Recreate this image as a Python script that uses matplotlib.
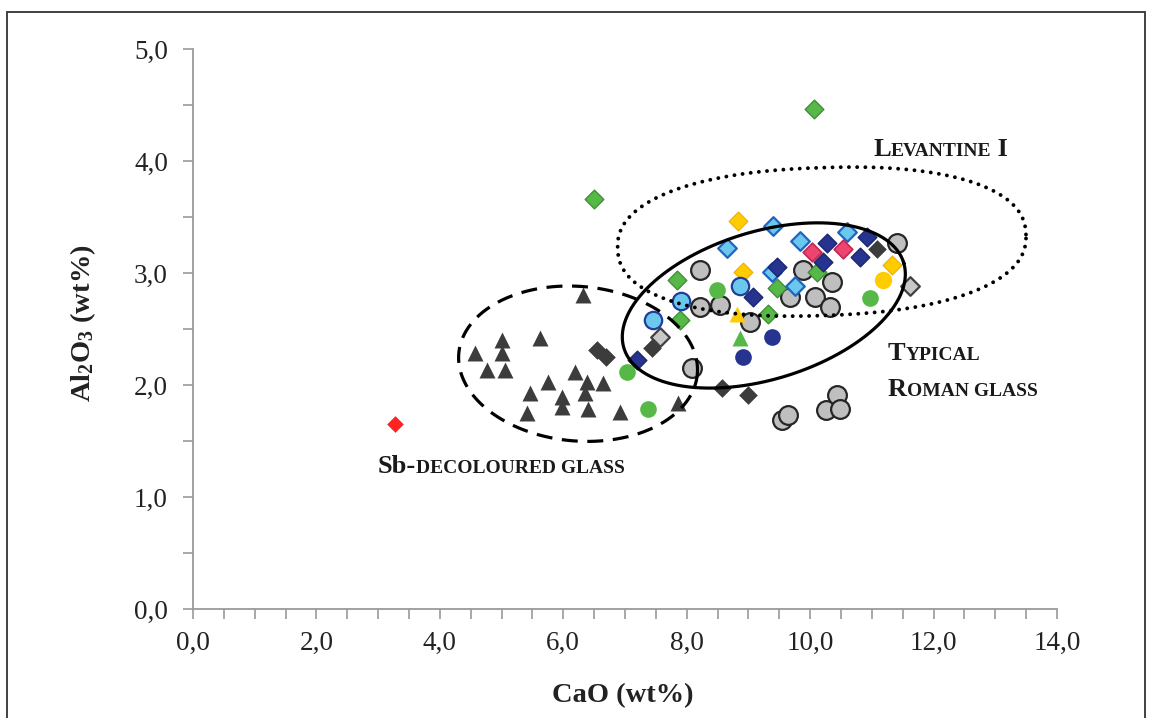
import numpy as np
import matplotlib.pyplot as plt
from matplotlib.patches import Rectangle

plt.rcParams['font.family'] = ['Liberation Serif', 'DejaVu Serif']
plt.rcParams['mathtext.fontset'] = 'custom'
plt.rcParams['mathtext.rm'] = 'Liberation Serif:bold'
plt.rcParams['mathtext.it'] = 'Liberation Serif:bold'
plt.rcParams['mathtext.bf'] = 'Liberation Serif:bold'

# =============================================================================
#               DATOS  (CaO wt%, Al2O3 wt%)
# =============================================================================

# vidrios decolorados con Sb
sb_cao = [4.57, 5.01, 5.01, 5.62, 4.76, 5.06, 5.75, 6.19, 5.46, 5.98, 6.39, 6.35,
          6.65, 5.41, 5.98, 6.40, 6.92, 7.86, 6.32]
sb_al = [2.29, 2.40, 2.29, 2.42, 2.13, 2.13, 2.03, 2.12, 1.93, 1.89, 2.03, 1.93,
         2.02, 1.75, 1.80, 1.79, 1.76, 1.84, 2.80]

dkdia_cao = [6.55, 6.69, 8.57, 9.00, 11.09, 7.44]
dkdia_al = [2.31, 2.25, 1.97, 1.91, 3.21, 2.33]

ltdia_cao = [11.62, 7.57]
ltdia_al = [2.88, 2.43]

gcirc_cao = [8.22, 8.22, 8.54, 8.09, 9.03, 9.68, 9.89, 10.08, 10.36, 10.32, 11.41,
             9.55, 9.64, 10.26, 10.44, 10.49]
gcirc_al = [3.03, 2.70, 2.71, 2.15, 2.56, 2.79, 3.03, 2.79, 2.92, 2.70, 3.27,
            1.69, 1.73, 1.78, 1.91, 1.79]

grcirc_cao = [7.03, 7.37, 8.49, 10.97]
grcirc_al = [2.12, 1.79, 2.85, 2.78]

grdia_cao = [6.50, 10.06, 7.84, 7.89, 9.32, 9.46, 10.11]
grdia_al = [3.66, 4.46, 2.94, 2.58, 2.63, 2.87, 3.01]

grtri_cao = [8.87]
grtri_al = [2.42]

yedia_cao = [8.83, 8.91, 11.33]
yedia_al = [3.46, 3.01, 3.07]
yetri_cao = [8.82]
yetri_al = [2.63]
yecirc_cao = [11.18]
yecirc_al = [2.94]

lbdia_cao = [8.65, 9.40, 9.84, 10.60, 9.38, 9.76]
lbdia_al = [3.22, 3.42, 3.29, 3.37, 3.01, 2.88]
lbcirc_cao = [7.46, 7.91, 8.87]
lbcirc_al = [2.58, 2.75, 2.88]

nvdia_cao = [10.28, 10.92, 10.81, 9.47, 10.21, 9.08, 7.20]
nvdia_al = [3.27, 3.32, 3.14, 3.05, 3.10, 2.79, 2.22]
nvcirc_cao = [9.38, 8.91]
nvcirc_al = [2.43, 2.25]

pkdia_cao = [10.03, 10.53]
pkdia_al = [3.19, 3.21]

rddia_cao = [3.27]
rddia_al = [1.65]

x_ticks = [0, 2, 4, 6, 8, 10, 12, 14]
y_ticks = [0, 1, 2, 3, 4, 5]


def etiqueta(v):
    return ('%.1f' % v).replace('.', ',')


def contorno(ax, cx, cy, rx, ry, ang, p=2.0, **kw):
    # curva cerrada (superelipse) trazada en pixeles y pasada a datos
    fig = ax.figure
    bb = ax.get_position()
    W = bb.width * fig.get_figwidth() * fig.dpi
    H = bb.height * fig.get_figheight() * fig.dpi
    x0, x1 = ax.get_xlim()
    y0, y1 = ax.get_ylim()
    sx = W / (x1 - x0)
    sy = H / (y1 - y0)
    t = np.linspace(0, 2*np.pi, 400)
    c, s = np.cos(t), np.sin(t)
    u = np.sign(c)*np.abs(c)**(2/p) * rx*sx
    v = np.sign(s)*np.abs(s)**(2/p) * ry*sy
    a = np.deg2rad(ang)
    xs = cx + (u*np.cos(a) - v*np.sin(a))/sx
    ys = cy + (u*np.sin(a) + v*np.cos(a))/sy
    ax.plot(xs, ys, color='black', zorder=5, **kw)


def versalitas(ax, x, y, partes):
    renderer = ax.figure.canvas.get_renderer()
    dx = 0.0
    for txt, size in partes:
        t = ax.annotate(txt, (x, y), xytext=(dx, 0), textcoords='offset points',
                        fontsize=size, fontweight='bold', color='#1a1a1a',
                        ha='left', va='baseline', zorder=6)
        dx += t.get_window_extent(renderer).width * 72 / ax.figure.dpi


# =============================================================================
#                              PLOTEO
# =============================================================================

fig = plt.figure(figsize=(11.52, 7.18), dpi=100)
ax = fig.add_axes([0.1675, 0.1518, 0.75, 0.78])
ax.set_xlim(0, 14)
ax.set_ylim(0, 5)

ax.scatter(sb_cao, sb_al, marker='^', s=11.5**2, c='#3c3c3c', lw=0, zorder=2)
ax.scatter(dkdia_cao, dkdia_al, marker='D', s=9.5**2, c='#3c3c3c', lw=0, zorder=2)
ax.scatter(gcirc_cao, gcirc_al, marker='o', s=13.5**2, c='#bfbfbf',
           edgecolors='#262626', lw=1.6, zorder=3)
ax.scatter(ltdia_cao, ltdia_al, marker='D', s=9.5**2, c='#c8c8c8',
           edgecolors='#404040', lw=1.6, zorder=3)
ax.scatter(grcirc_cao, grcirc_al, marker='o', s=12**2, c='#56b847', lw=0, zorder=3)
ax.scatter(grdia_cao, grdia_al, marker='D', s=9.5**2, c='#56b847',
           edgecolors='#3f8f35', lw=1.0, zorder=3)
ax.scatter(grtri_cao, grtri_al, marker='^', s=11.5**2, c='#56b847', lw=0, zorder=3)
ax.scatter(yedia_cao, yedia_al, marker='D', s=9.5**2, c='#ffcc00',
           edgecolors='#f2b400', lw=1.0, zorder=3)
ax.scatter(yetri_cao, yetri_al, marker='^', s=11.5**2, c='#ffcc00', lw=0, zorder=3)
ax.scatter(yecirc_cao, yecirc_al, marker='o', s=12.5**2, c='#ffcc00', lw=0, zorder=3)
ax.scatter(lbdia_cao, lbdia_al, marker='D', s=9.5**2, c='#6cc7ee',
           edgecolors='#1f64c0', lw=1.6, zorder=4)
ax.scatter(lbcirc_cao, lbcirc_al, marker='o', s=12.5**2, c='#6cc7ee',
           edgecolors='#1f3f9a', lw=1.6, zorder=4)
ax.scatter(nvdia_cao, nvdia_al, marker='D', s=9.5**2, c='#26338f',
           edgecolors='#1c2670', lw=1.0, zorder=4)
ax.scatter(nvcirc_cao, nvcirc_al, marker='o', s=12**2, c='#26338f', lw=0, zorder=4)
ax.scatter(pkdia_cao, pkdia_al, marker='D', s=9.5**2, c='#ee4470',
           edgecolors='#c0284f', lw=1.2, zorder=4)
ax.scatter(rddia_cao, rddia_al, marker='D', s=8.5**2, c='#ff2424', lw=0, zorder=4)

# regiones de referencia
contorno(ax, 6.24, 2.19, 1.94, 0.69, -5, lw=2.3, ls=(0, (5, 3)))
contorno(ax, 9.25, 2.71, 2.37, 0.66, 17, lw=2.3)
contorno(ax, 10.19, 3.28, 3.31, 0.66, 2, p=2.3, lw=2.8,
         ls=(0, (0.01, 2.1)), dash_capstyle='round')

versalitas(ax, 11.02, 4.04, [('L', 19), ('EVANTINE', 14), (' I', 19)])
versalitas(ax, 11.26, 2.22, [('T', 19), ('YPICAL', 14)])
versalitas(ax, 11.26, 1.90, [('R', 19), ('OMAN GLASS', 14)])
versalitas(ax, 3.00, 1.21, [('Sb-', 19), ('DECOLOURED GLASS', 14)])

# ejes
for lado in ['top', 'right']:
    ax.spines[lado].set_visible(False)
for lado in ['left', 'bottom']:
    ax.spines[lado].set_color('#9a9a9a')
    ax.spines[lado].set_linewidth(1.3)

ax.set_xticks(x_ticks)
ax.set_xticklabels([etiqueta(v) for v in x_ticks])
ax.set_yticks(y_ticks)
ax.set_yticklabels([etiqueta(v) for v in y_ticks])
ax.set_xticks(np.arange(0, 14.01, 0.5), minor=True)
ax.set_yticks(np.arange(0, 5.01, 0.5), minor=True)
ax.tick_params(which='both', direction='out', length=7, width=1.2,
               color='#9a9a9a', labelsize=19.5, labelcolor='#222222')
ax.tick_params(axis='x', pad=9)
ax.tick_params(axis='y', pad=11)

ax.set_xlabel('CaO (wt%)', fontsize=20.5, fontweight='bold', color='#222222')
ax.set_ylabel(r'Al$_2$O$_3$ (wt%)', fontsize=20.5, fontweight='bold', color='#222222')
ax.xaxis.set_label_coords(0.497, -0.133)
ax.yaxis.set_label_coords(-0.11, 0.51)

# marco exterior
fig.patches.append(Rectangle((7/1152, -0.02), 1138/1152, 1 - 12/718 + 0.02,
                             transform=fig.transFigure, fill=False,
                             edgecolor='#333333', lw=1.3, clip_on=False))

fig.savefig('out.png', dpi=100)
